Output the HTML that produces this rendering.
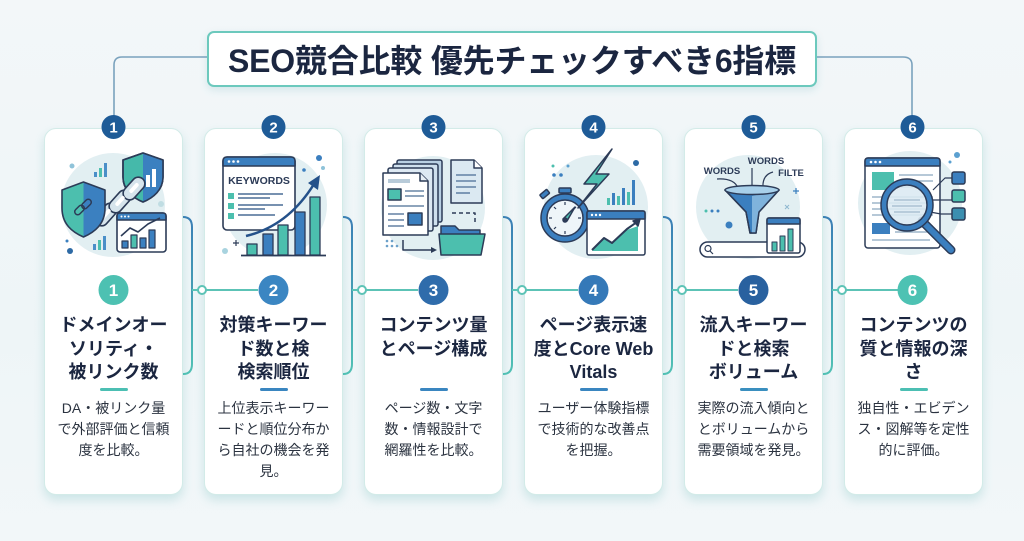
<!DOCTYPE html>
<html><head><meta charset="utf-8">
<style>
*{margin:0;padding:0;box-sizing:border-box}
html,body{width:1024px;height:541px;overflow:hidden}
body{position:relative;background:linear-gradient(180deg,#f3f7f9 0%,#eef5f7 60%,#f2f7f9 100%);font-family:"Liberation Sans","Noto Sans CJK JP",sans-serif;color:#1b2640}
svg{position:absolute;left:0;top:0}
.title{position:absolute;left:207px;top:31px;width:610px;height:56px;background:#fff;border:2px solid #6cc9bd;border-radius:7px;box-shadow:0 3px 8px rgba(80,160,170,.18);text-align:center;font-weight:bold;font-size:32px;line-height:52px;padding-top:2px;color:#1b2640;z-index:1;letter-spacing:-0.2px}
.card{position:absolute;top:128px;width:139px;height:367px;background:#fff;border:1.5px solid #d3ebe8;border-radius:12px;box-shadow:0 5px 10px rgba(70,170,170,.22);z-index:1}
.ct{position:absolute;left:-6px;right:-6px;top:185px;text-align:center;font-weight:bold;font-size:18px;line-height:23.5px;color:#1b2640}
.dv{position:absolute;left:55px;top:259px;width:28px;height:3px;border-radius:2px}
.cd{position:absolute;left:-6px;right:-6px;top:269px;text-align:center;font-size:14px;line-height:21px;color:#2b3340}
</style></head><body>

<svg width="1024" height="541" style="z-index:0">
<defs>
<linearGradient id="br" x1="0" y1="0" x2="0" y2="1">
<stop offset="0" stop-color="#3c7fb6"/><stop offset="1" stop-color="#52c2b5"/>
</linearGradient>
</defs>
<path d="M208,57 H122 Q114,57 114,65 V116" fill="none" stroke="#7aa2bd" stroke-width="1.6"/>
<path d="M817,57 H903 Q912,57 912,65 V116" fill="none" stroke="#7aa2bd" stroke-width="1.6"/>
<g fill="none" stroke="url(#br)" stroke-width="2">
<path d="M182,217 H183 Q192,217 192,227 V364 Q192,374 183,374 H182"/>
<path d="M342,217 H343 Q352,217 352,227 V364 Q352,374 343,374 H342"/>
<path d="M502,217 H503 Q512,217 512,227 V364 Q512,374 503,374 H502"/>
<path d="M662,217 H663 Q672,217 672,227 V364 Q672,374 663,374 H662"/>
<path d="M822,217 H823 Q832,217 832,227 V364 Q832,374 823,374 H822"/>
</g>
</svg>

<div class="title">SEO競合比較 優先チェックすべき6指標</div>

<div class="card" style="left:44px">
<div class="ct">ドメインオー<br>ソリティ・<br>被リンク数</div>
<div class="dv" style="background:#4cbfb3"></div>
<div class="cd">DA・被リンク量<br>で外部評価と信頼<br>度を比較。</div>
</div>
<div class="card" style="left:204px">
<div class="ct">対策キーワー<br>ド数と検<br>検索順位</div>
<div class="dv" style="background:#3a86c0"></div>
<div class="cd">上位表示キーワー<br>ードと順位分布か<br>ら自社の機会を発<br>見。</div>
</div>
<div class="card" style="left:364px">
<div class="ct">コンテンツ量<br>とページ構成</div>
<div class="dv" style="background:#3a86c0"></div>
<div class="cd">ページ数・文字<br>数・情報設計で<br>網羅性を比較。</div>
</div>
<div class="card" style="left:524px">
<div class="ct">ページ表示速<br>度とCore Web<br>Vitals</div>
<div class="dv" style="background:#3a86c0"></div>
<div class="cd">ユーザー体験指標<br>で技術的な改善点<br>を把握。</div>
</div>
<div class="card" style="left:684px">
<div class="ct">流入キーワー<br>ドと検索<br>ボリューム</div>
<div class="dv" style="background:#3a8fbf"></div>
<div class="cd">実際の流入傾向と<br>とボリュームから<br>需要領域を発見。</div>
</div>
<div class="card" style="left:844px">
<div class="ct">コンテンツの<br>質と情報の深<br>さ</div>
<div class="dv" style="background:#4cbfb3"></div>
<div class="cd">独自性・エビデン<br>ス・図解等を定性<br>的に評価。</div>
</div>

<svg width="1024" height="541" style="z-index:2" font-family="Liberation Sans, sans-serif">
<!-- horizontal connectors -->
<g stroke="#5cc3b6" stroke-width="2" fill="none">
<path d="M192,290 H258"/><path d="M352,290 H418"/><path d="M512,290 H578"/><path d="M672,290 H738"/><path d="M832,290 H898"/>
</g>
<g fill="#fff" stroke="#5cc3b6" stroke-width="2">
<circle cx="202" cy="290" r="4"/><circle cx="362" cy="290" r="4"/><circle cx="522" cy="290" r="4"/><circle cx="682" cy="290" r="4"/><circle cx="842" cy="290" r="4"/>
</g>
<!-- top badges -->
<g fill="#1e5b97">
<circle cx="113.5" cy="127" r="12"/><circle cx="273.5" cy="127" r="12"/><circle cx="433.5" cy="127" r="12"/><circle cx="593.5" cy="127" r="12"/><circle cx="753.5" cy="127" r="12"/><circle cx="912.5" cy="127" r="12"/>
</g>
<g fill="#fff" font-weight="bold" font-size="15" text-anchor="middle">
<text x="113.5" y="132.5">1</text><text x="273.5" y="132.5">2</text><text x="433.5" y="132.5">3</text><text x="593.5" y="132.5">4</text><text x="753.5" y="132.5">5</text><text x="912.5" y="132.5">6</text>
</g>
<!-- middle badges -->
<circle cx="113.5" cy="290" r="15" fill="#4dc1b2"/>
<circle cx="273.5" cy="290" r="15" fill="#3b86c2"/>
<circle cx="433.5" cy="290" r="15" fill="#2f6cab"/>
<circle cx="593.5" cy="290" r="15" fill="#3579b8"/>
<circle cx="753.5" cy="290" r="15" fill="#29619f"/>
<circle cx="912.5" cy="290" r="15" fill="#4dc2b3"/>
<g fill="#fff" font-weight="bold" font-size="17" text-anchor="middle">
<text x="113.5" y="296">1</text><text x="273.5" y="296">2</text><text x="433.5" y="296">3</text><text x="593.5" y="296">4</text><text x="753.5" y="296">5</text><text x="912.5" y="296">6</text>
</g>

<!-- ICON 1 -->
<g stroke-linejoin="round">
<circle cx="113" cy="205" r="52" fill="#e2eff2"/>
<g fill="#4a8fc8"><rect x="94" y="172" width="3" height="5"/><rect x="99" y="168" width="3" height="9" fill="#4cbfae"/><rect x="104" y="163" width="3" height="14"/></g>
<g fill="#4a8fc8"><rect x="93" y="244" width="3" height="6"/><rect x="98" y="240" width="3" height="10" fill="#4cbfae"/><rect x="103" y="236" width="3" height="14"/></g>
<path d="M143,153 L163,160 V177 C163,190 153,198 143,202 C133,198 123,190 123,177 V160 Z" fill="#45b9aa" stroke="#2c3b57" stroke-width="1.6"/>
<path d="M143,153 L163,160 V177 C163,190 153,198 143,202 Z" fill="#3b80c0"/>
<path d="M143,153 L163,160 V177 C163,190 153,198 143,202 C133,198 123,190 123,177 V160 Z" fill="none" stroke="#2c3b57" stroke-width="1.6"/>
<rect x="146" y="175" width="4" height="12" fill="#fff"/><rect x="152" y="169" width="4" height="18" fill="#fff"/>
<g fill="#d6e4ec" stroke="#2c3b57" stroke-width="1.6">
<rect x="93" y="208" width="26" height="13" rx="6.5" transform="rotate(-48 106 214.5)"/>
<rect x="107" y="195" width="26" height="13" rx="6.5" transform="rotate(-48 120 201.5)"/>
<rect x="121" y="182" width="26" height="13" rx="6.5" transform="rotate(-48 134 188.5)"/>
</g>
<g fill="#fff" stroke="none">
<rect x="100" y="212" width="12" height="4" rx="2" transform="rotate(-48 106 214)"/>
<rect x="114" y="199" width="12" height="4" rx="2" transform="rotate(-48 120 201)"/>
<rect x="128" y="186" width="12" height="4" rx="2" transform="rotate(-48 134 188)"/>
</g>
<path d="M83.5,182 L105,190 V208 C105,224 95,232 83.5,237 C72,232 62,224 62,208 V190 Z" fill="#4cbfae"/>
<path d="M83.5,182 L105,190 V208 C105,224 95,232 83.5,237 Z" fill="#3b80c0"/>
<path d="M83.5,182 L105,190 V208 C105,224 95,232 83.5,237 C72,232 62,224 62,208 V190 Z" fill="none" stroke="#2c3b57" stroke-width="1.6"/>
<g fill="none" stroke="#2c3b57" stroke-width="1.5"><rect x="74" y="207" width="11" height="6" rx="3" transform="rotate(-45 79.5 210)"/><rect x="81" y="201" width="11" height="6" rx="3" transform="rotate(-45 86.5 204)"/></g>
<rect x="117" y="213" width="49" height="39" rx="3" fill="#fff" stroke="#2c3b57" stroke-width="1.6"/>
<path d="M117,220 V216 Q117,213 120,213 H163 Q166,213 166,216 V220 Z" fill="#3b80c0" stroke="#2c3b57" stroke-width="1.6"/>
<g fill="#fff"><circle cx="121.5" cy="216.5" r="1"/><circle cx="125" cy="216.5" r="1"/><circle cx="128.5" cy="216.5" r="1"/></g>
<g stroke="#2c3b57" stroke-width="1.2"><rect x="122" y="241" width="6" height="7" fill="#3b80c0"/><rect x="131" y="235" width="6" height="13" fill="#4cbfae"/><rect x="140" y="238" width="6" height="10" fill="#3b80c0"/><rect x="149" y="230" width="6" height="18" fill="#3b80c0"/></g>
<polyline points="121,236 130,228 138,232 148,224 160,218" fill="none" stroke="#2c3b57" stroke-width="1.6"/>
<circle cx="72" cy="166" r="2.5" fill="#8fc3d9"/><circle cx="67" cy="241" r="1.5" fill="#3b80c0"/><circle cx="70" cy="251" r="3" fill="#2d6aa5"/><circle cx="161" cy="204" r="3" fill="#c0dde3"/>
</g>

<!-- ICON 2 -->
<g stroke-linejoin="round">
<circle cx="275" cy="205" r="52" fill="#e2eff2"/>
<rect x="223" y="157" width="72" height="73" rx="4" fill="#fff" stroke="#2c3b57" stroke-width="1.6"/>
<path d="M223,166 V161 Q223,157 227,157 H291 Q295,157 295,161 V166 Z" fill="#3b7fbf" stroke="#2c3b57" stroke-width="1.6"/>
<g fill="#fff"><circle cx="229" cy="161.5" r="1.3"/><circle cx="233.5" cy="161.5" r="1.3"/><circle cx="238" cy="161.5" r="1.3"/></g>
<text x="259" y="184" font-size="10.5" font-weight="bold" fill="#2c3b57" text-anchor="middle">KEYWORDS</text>
<g fill="#4cbfae"><rect x="228" y="193" width="6" height="6"/><rect x="228" y="203" width="6" height="6"/><rect x="228" y="213" width="6" height="6"/></g>
<g stroke="#4a6d95" stroke-width="1.5"><line x1="238" y1="194" x2="283" y2="194"/><line x1="238" y1="198" x2="270" y2="198"/><line x1="238" y1="205" x2="283" y2="205"/><line x1="238" y1="209" x2="265" y2="209"/><line x1="238" y1="215" x2="275" y2="215"/></g>
<g stroke="#2c3b57" stroke-width="1.3"><rect x="247" y="244" width="10" height="11" fill="#4cbfae"/><rect x="263" y="234" width="10" height="21" fill="#3b7fbf"/><rect x="278" y="225" width="10" height="30" fill="#4cbfae"/><rect x="295" y="212" width="10" height="43" fill="#3b7fbf"/><rect x="310" y="197" width="10" height="58" fill="#4cbfae"/></g>
<line x1="241" y1="255.5" x2="326" y2="255.5" stroke="#2c3b57" stroke-width="1.8"/>
<path d="M246,236 Q288,226 314,184" fill="none" stroke="#24518a" stroke-width="2.5"/>
<polygon points="320,175 318,190 308,183" fill="#24518a"/>
<circle cx="319" cy="158" r="3" fill="#3b7fbf"/><circle cx="323" cy="168" r="2" fill="#8fc3d9"/><circle cx="304" cy="170" r="1.8" fill="#3b7fbf"/><circle cx="225" cy="251" r="3" fill="#a8d3df"/>
<path d="M233,243 h6 M236,240 v6" stroke="#2c3b57" stroke-width="1.2"/>
</g>

<!-- ICON 3 -->
<g stroke-linejoin="round" stroke="#2c3b57" stroke-width="1.5">
<circle cx="433" cy="208" r="52" fill="#e2eff2" stroke="none"/>
<rect x="397" y="160" width="45" height="62" rx="2" fill="#b9d0e3"/>
<rect x="393" y="164" width="45" height="62" rx="2" fill="#cfe0ee"/>
<rect x="388" y="168" width="45" height="63" rx="2" fill="#dde9f3"/>
<path d="M383,173 H420 L428,181 V235 H383 Z" fill="#fff"/>
<path d="M420,173 V181 H428" fill="#e6eef5"/>
<rect x="388" y="179" width="22" height="4" fill="#b8cbd9" stroke="none"/>
<rect x="388" y="189" width="13" height="11" fill="#4cbfae"/>
<g stroke="#4a6d95" stroke-width="1.3"><line x1="405" y1="191" x2="424" y2="191"/><line x1="405" y1="196" x2="424" y2="196"/><line x1="388" y1="206" x2="424" y2="206"/><line x1="388" y1="214" x2="404" y2="214"/><line x1="388" y1="220" x2="404" y2="220"/><line x1="388" y1="226" x2="404" y2="226"/></g>
<rect x="408" y="213" width="14" height="12" fill="#3b7fbf"/>
<path d="M451,160 H474 L482,168 V203 H451 Z" fill="#dbe9f2"/>
<path d="M474,160 V168 H482" fill="#fff"/>
<g stroke="#4a6d95" stroke-width="1.3"><line x1="456" y1="175" x2="476" y2="175"/><line x1="456" y1="181" x2="476" y2="181"/><line x1="456" y1="187" x2="476" y2="187"/><line x1="456" y1="193" x2="470" y2="193"/></g>
<path d="M452,213 H475 V222" fill="none" stroke-dasharray="4 3"/>
<path d="M403,240 V250 H432" fill="none"/>
<polygon points="437,250 431,247 431,253" fill="#2c3b57" stroke="none"/>
<path d="M441,226 H455 L459,230 H480 V250 H441 Z" fill="#3b7fbf"/>
<path d="M439,234 H485 L481,255 H441 Z" fill="#4cbfae"/>
<g fill="#6ba0c9" stroke="none"><circle cx="387" cy="241" r="1.3"/><circle cx="392" cy="241" r="1.3"/><circle cx="387" cy="246" r="1.3"/><circle cx="392" cy="246" r="1.3"/><circle cx="397" cy="246" r="1.3"/></g>
</g>

<!-- ICON 4 -->
<g stroke-linejoin="round" stroke="#2c3b57" stroke-width="1.5">
<circle cx="596" cy="207" r="52" fill="#e2eff2" stroke="none"/>
<g stroke="none"><rect x="607" y="198" width="3" height="7" fill="#4cbfae"/><rect x="612" y="193" width="3" height="12" fill="#3b7fbf"/><rect x="617" y="196" width="3" height="9" fill="#4cbfae"/><rect x="622" y="188" width="3" height="17" fill="#3b7fbf"/><rect x="627" y="192" width="3" height="13" fill="#4cbfae"/><rect x="632" y="180" width="3" height="25" fill="#3b7fbf"/></g>
<rect x="559" y="188" width="12" height="5" rx="1" fill="#3b7fbf"/>
<rect x="540" y="192" width="9" height="5" rx="1" fill="#3b7fbf" transform="rotate(-40 544 194)"/>
<circle cx="565" cy="218" r="24" fill="#3b7fbf"/>
<circle cx="565" cy="218" r="18" fill="#eef5f9"/>
<g stroke="#2c3b57" stroke-width="1.2"><line x1="565" y1="202" x2="565" y2="205"/><line x1="565" y1="231" x2="565" y2="234"/><line x1="549" y1="218" x2="552" y2="218"/><line x1="578" y1="218" x2="581" y2="218"/><line x1="554" y1="207" x2="556" y2="209"/><line x1="576" y1="207" x2="574" y2="209"/><line x1="554" y1="229" x2="556" y2="227"/></g>
<polygon points="563,219 567,221 575,207" fill="#4cbfae"/>
<circle cx="565" cy="220" r="2" fill="#2c3b57"/>
<polygon points="612,149 584,184 597,184 578,208 609,174 596,174" fill="#4cbfae"/>
<rect x="587" y="211" width="58" height="44" rx="2" fill="#fff"/>
<path d="M587,219 V213 Q587,211 589,211 H643 Q645,211 645,213 V219 Z" fill="#3b7fbf"/>
<g fill="#fff" stroke="none"><circle cx="592" cy="215" r="1.2"/><circle cx="596" cy="215" r="1.2"/><circle cx="600" cy="215" r="1.2"/></g>
<polygon points="592,251 604,239 612,244 627,230 638,226 638,251" fill="#4cbfae" stroke="none"/>
<polyline points="592,250 604,238 612,243 627,229 637,222" fill="none" stroke-width="2"/>
<polygon points="640,219 633,221 638,226" fill="#2c3b57"/>
<circle cx="554" cy="175" r="1.8" fill="#3b7fbf" stroke="none"/><circle cx="561" cy="175" r="1.8" fill="#3b7fbf" stroke="none"/><circle cx="568" cy="166" r="1.5" fill="#5ba0d0" stroke="none"/><circle cx="636" cy="163" r="3" fill="#2d6aa5" stroke="none"/><circle cx="553" cy="166" r="1.5" fill="#4cbfae" stroke="none"/>
</g>

<!-- ICON 5 -->
<g stroke-linejoin="round" stroke="#2c3b57" stroke-width="1.5">
<circle cx="748" cy="207" r="52" fill="#e2eff2" stroke="none"/>
<g stroke="none" fill="#2c3b57" font-weight="bold" font-size="9.5" text-anchor="middle">
<text x="722" y="174">WORDS</text><text x="766" y="164">WORDS</text><text x="791" y="176">FILTE</text>
</g>
<g fill="none" stroke-width="1.2">
<path d="M717,179 Q734,178 738,188"/><path d="M752,168 V188"/><path d="M773,172 Q762,175 763,188"/>
</g>
<path d="M725,190 Q752,198 779,190 L759,212 L756,233 L750,233 L746,212 Z" fill="#3b7fbf"/>
<path d="M752,196 L779,190 L759,212 L756,233 L752,233 Z" fill="#7fb3dc" stroke="none"/>
<path d="M725,190 Q752,198 779,190 L759,212 L756,233 L750,233 L746,212 Z" fill="none"/>
<ellipse cx="752" cy="190" rx="27" ry="4.5" fill="#a8d0ea"/>
<rect x="700" y="242" width="105" height="15" rx="7.5" fill="#fff"/>
<circle cx="708" cy="248.5" r="3" fill="none" stroke-width="1.2"/><line x1="710" y1="251" x2="713" y2="254" stroke-width="1.2"/>
<rect x="767" y="218" width="33" height="35" rx="2" fill="#fff"/>
<path d="M767,224 V220 Q767,218 769,218 H798 Q800,218 800,220 V224 Z" fill="#3b7fbf"/>
<g stroke-width="1"><rect x="772" y="242" width="5" height="9" fill="#4cbfae"/><rect x="780" y="236" width="5" height="15" fill="#4cbfae"/><rect x="788" y="229" width="5" height="22" fill="#4cbfae"/></g>
<g stroke="none"><circle cx="706" cy="211" r="1.5" fill="#4cbfae"/><circle cx="712" cy="211" r="1.5" fill="#3b7fbf"/><circle cx="718" cy="211" r="1.5" fill="#3b7fbf"/><circle cx="729" cy="225" r="3.5" fill="#3b7fbf"/></g>
<path d="M793,191 h6 M796,188 v6" stroke="#3b7fbf" stroke-width="1.2"/>
<path d="M785,205 l4,4 M789,205 l-4,4" stroke="#8fb8d0" stroke-width="1"/>
</g>

<!-- ICON 6 -->
<g stroke-linejoin="round" stroke="#2c3b57" stroke-width="1.5">
<circle cx="910" cy="203" r="52" fill="#e2eff2" stroke="none"/>
<rect x="865" y="158" width="75" height="90" rx="3" fill="#fff"/>
<path d="M865,166 V161 Q865,158 868,158 H937 Q940,158 940,161 V166 Z" fill="#3b7fbf"/>
<g fill="#fff" stroke="none"><circle cx="871" cy="162" r="1.3"/><circle cx="875.5" cy="162" r="1.3"/><circle cx="880" cy="162" r="1.3"/></g>
<rect x="872" y="172" width="22" height="18" fill="#4cbfae" stroke="none"/>
<g stroke="#8aa6bf" stroke-width="1.3"><line x1="899" y1="175" x2="933" y2="175"/><line x1="899" y1="181" x2="933" y2="181"/><line x1="899" y1="187" x2="925" y2="187"/><line x1="872" y1="197" x2="933" y2="197"/><line x1="872" y1="203" x2="933" y2="203"/><line x1="872" y1="209" x2="933" y2="209"/><line x1="872" y1="215" x2="933" y2="215"/><line x1="895" y1="226" x2="933" y2="226"/><line x1="895" y1="232" x2="933" y2="232"/><line x1="872" y1="240" x2="930" y2="240"/></g>
<rect x="872" y="223" width="18" height="11" fill="#3b7fbf" stroke="none"/>
<g fill="none" stroke-width="1.2"><path d="M933,190 L945,178 H952"/><path d="M931,200 H952"/><path d="M930,212 L941,214 H952"/></g>
<line x1="922" y1="221" x2="951" y2="250" stroke="#2c3b57" stroke-width="9" stroke-linecap="round"/>
<line x1="922" y1="221" x2="951" y2="250" stroke="#3b7fbf" stroke-width="6" stroke-linecap="round"/>
<circle cx="907" cy="205" r="23" fill="#dbe9f3" fill-opacity=".88" stroke="#3b7fbf" stroke-width="6"/>
<circle cx="907" cy="205" r="26" fill="none"/>
<circle cx="907" cy="205" r="20" fill="none"/>
<g stroke="#a0b8cc" stroke-width="1.2"><line x1="894" y1="200" x2="920" y2="200"/><line x1="892" y1="206" x2="922" y2="206"/><line x1="894" y1="212" x2="920" y2="212"/></g>
<rect x="952" y="172" width="13" height="12" rx="2" fill="#3b7fbf"/>
<rect x="952" y="190" width="13" height="12" rx="2" fill="#4cbfae"/>
<rect x="952" y="208" width="13" height="12" rx="2" fill="#3b8fb0"/>
<circle cx="957" cy="155" r="3" fill="#5ba0d0" stroke="none"/><circle cx="950" cy="162" r="1.5" fill="#5ba0d0" stroke="none"/>
</g>
</svg>
</body></html>
